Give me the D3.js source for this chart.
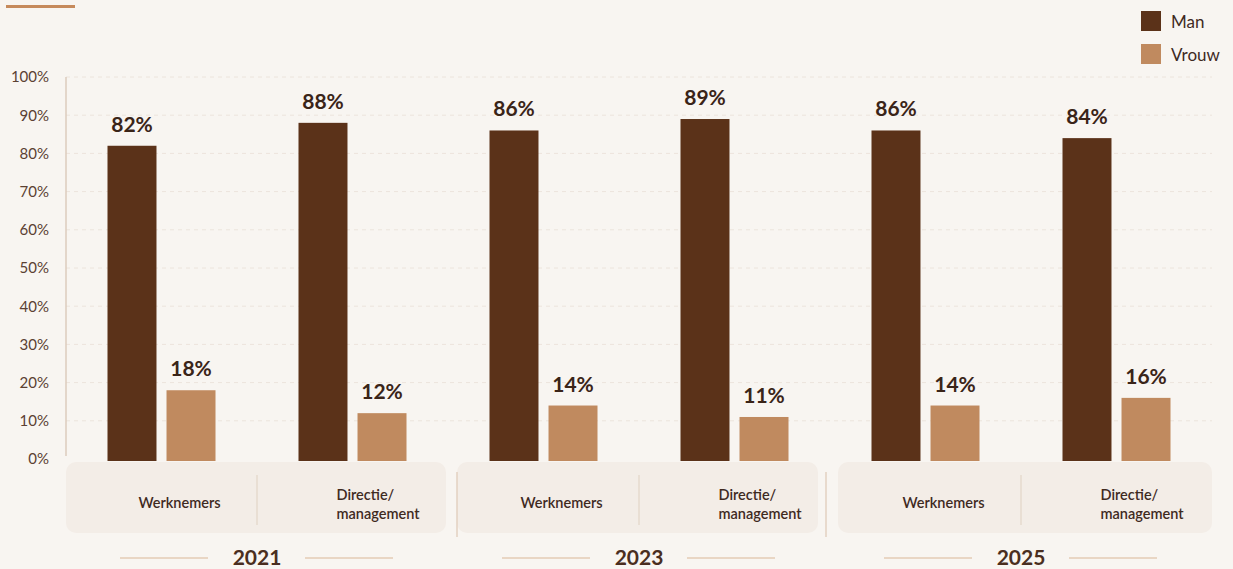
<!DOCTYPE html>
<html>
<head>
<meta charset="utf-8">
<script src="https://cdn.jsdelivr.net/npm/d3@7"></script>
<style>
  html, body { margin: 0; padding: 0; background: #f8f5f1; }
  svg { display: block; font-family: Lato, "Open Sans", sans-serif; }
</style>
</head>
<body>
<svg id="chart" width="1233" height="569"></svg>
<script>
// ---- data ----
const years = ["2021", "2023", "2025"];
const categories = ["Werknemers", "Directie/management"];
const categoryLines = [["Werknemers"], ["Directie/", "management"]];
const series = ["Man", "Vrouw"];
const manValues = [82, 88, 86, 89, 86, 84];     // order: year x category
const vrouwValues = [18, 12, 14, 11, 14, 16];
const yTicks = [0, 10, 20, 30, 40, 50, 60, 70, 80, 90, 100];

const colors = { Man: "#5b3219", Vrouw: "#c08a5f" };
const textDark = "#3f2a1f";

const rows = [];
years.forEach((yr, yi) => categories.forEach((cat, ci) => {
  const idx = yi * categories.length + ci;
  rows.push({ year: yr, cat, Man: manValues[idx], Vrouw: vrouwValues[idx] });
}));

const svg = d3.select("#chart");
const W = 1233, H = 569;
svg.append("rect").attr("width", W).attr("height", H).attr("fill", "#f8f5f1");

// top-left accent
svg.append("line").attr("x1", 6).attr("x2", 75).attr("y1", 6.5).attr("y2", 6.5)
  .attr("stroke", "#c68a5c").attr("stroke-width", 3);

const x0 = d3.scaleBand().domain(years).range([66, 1212]).padding(0);
const x1 = d3.scalePoint().domain(categories).range([0, x0.bandwidth()]).padding(0.5);
const x2 = d3.scaleBand().domain(series).range([-54, 54]).paddingInner(0.17).paddingOuter(0);
const y = d3.scaleLinear().domain([0, 100]).range([459, 77]);

// gridlines
svg.append("g").selectAll("line").data(yTicks.filter(t => t > 0)).join("line")
  .attr("x1", 66).attr("x2", 1212)
  .attr("y1", d => y(d)).attr("y2", d => y(d))
  .attr("stroke", "#ece4dc").attr("stroke-width", 1).attr("stroke-dasharray", "4,4");

// y axis
const yAxis = svg.append("g").attr("transform", "translate(66,0)")
  .call(d3.axisLeft(y).tickValues(yTicks).tickFormat(d => d + "%").tickSize(0).tickPadding(17));
yAxis.select(".domain").attr("stroke", "#dccbbd").attr("stroke-width", 1.5)
  .attr("d", `M0,${y(100)}V${y(0) - 3}`);
yAxis.selectAll("text").attr("fill", "#5b4133").attr("font-size", 15)
  .attr("font-family", "Lato, sans-serif");

// panels under each year
const panelInset = { left: [0, 9, 8], right: [2, 12, 0] };
years.forEach((yr, i) => {
  const xs = x0(yr) + panelInset.left[i];
  const xe = x0(yr) + x0.bandwidth() - panelInset.right[i];
  svg.append("rect").attr("x", xs).attr("y", 462).attr("width", xe - xs).attr("height", 71)
    .attr("rx", 10).attr("fill", "#f3ede7");
  // inner divider
  const cx = x0(yr) + x0.bandwidth() / 2;
  svg.append("line").attr("x1", cx).attr("x2", cx).attr("y1", 475).attr("y2", 525)
    .attr("stroke", "#e3d5c8").attr("stroke-width", 1.2);
  if (i > 0) {
    const sx = x0(yr) + (i === 1 ? 9 : -4);
    svg.append("line").attr("x1", sx).attr("x2", sx).attr("y1", 472).attr("y2", 537)
      .attr("stroke", "#e3d0c0").attr("stroke-width", 1.5);
  }
  // year label with side lines
  svg.append("text").attr("x", cx).attr("y", 565).attr("text-anchor", "middle")
    .attr("font-size", 21).attr("font-weight", 700).attr("fill", "#4a2e20").text(yr);
  [[-137, -49], [48, 136]].forEach(([a, b]) => {
    svg.append("line").attr("x1", cx + a).attr("x2", cx + b).attr("y1", 558).attr("y2", 558)
      .attr("stroke", "#e4cbb5").attr("stroke-width", 1.5);
  });
});

// bars
const groups = svg.append("g").selectAll("g").data(rows).join("g")
  .attr("transform", d => `translate(${x0(d.year) + x1(d.cat)},0)`);

groups.selectAll("rect").data(d => series.map(s => ({ s, v: d[s] }))).join("rect")
  .attr("x", d => x2(d.s)).attr("width", x2.bandwidth())
  .attr("y", d => y(d.v)).attr("height", d => y(0) + 2 - y(d.v))
  .attr("fill", d => colors[d.s]);

groups.selectAll("text.val").data(d => series.map(s => ({ s, v: d[s] }))).join("text")
  .attr("class", "val")
  .attr("x", d => x2(d.s) + x2.bandwidth() / 2).attr("y", d => y(d.v) - 14)
  .attr("text-anchor", "middle").attr("font-size", 21).attr("font-weight", 700)
  .attr("fill", "#3a2418").text(d => d.v + "%");

// category labels
const catOffset = [18, 29];
rows.forEach(d => {
  const ci = categories.indexOf(d.cat);
  const cx = x0(d.year) + x1(d.cat) + catOffset[ci];
  const lines = categoryLines[ci];
  const t = svg.append("text").attr("font-size", 14.5).attr("font-weight", 600).attr("fill", textDark)
    .attr("text-anchor", lines.length > 1 ? "start" : "middle");
  if (lines.length === 1) {
    t.attr("x", cx).attr("y", 508).text(lines[0]);
  } else {
    const left = cx - 45;
    lines.forEach((ln, li) => t.append("tspan").attr("x", left).attr("y", 500 + li * 19).text(ln));
  }
});

// legend
const lg = svg.append("g");
series.forEach((s, i) => {
  lg.append("rect").attr("x", 1141).attr("y", 11 + i * 33).attr("width", 20).attr("height", 20)
    .attr("fill", colors[s]);
  lg.append("text").attr("x", 1171).attr("y", 28 + i * 33).attr("font-size", 17)
    .attr("fill", textDark).text(s);
});
</script>
</body>
</html>
